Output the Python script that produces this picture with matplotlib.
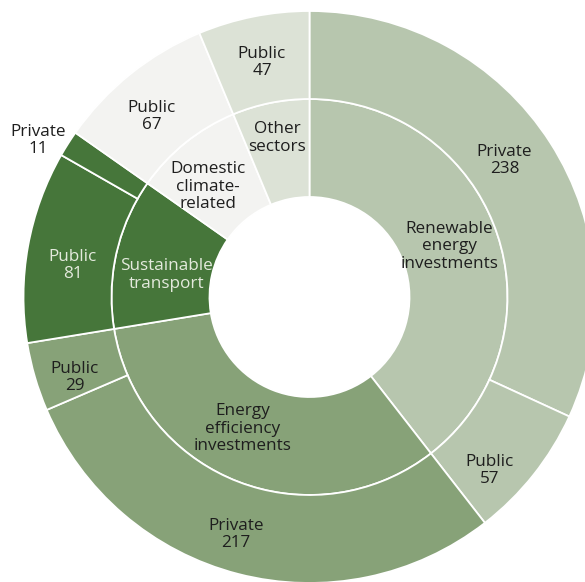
import numpy as np
import matplotlib
matplotlib.use('Agg')
import matplotlib.pyplot as plt

# Inner ring: sectors
sectors = ['Renewable\nenergy\ninvestments', 'Energy\nefficiency\ninvestments',
           'Sustainable\ntransport', 'Domestic\nclimate-\nrelated', 'Other\nsectors']
sector_colors = ['#b7c6ae', '#87a278', '#46763a', '#f3f3f1', '#dce2d6']

# Outer ring: public / private split per sector (clockwise from top)
split_labels = ['Private', 'Public', 'Private', 'Public', 'Public', 'Private', 'Public', 'Public']
split_values = [238, 57, 217, 29, 81, 11, 67, 47]
split_sector = [0, 0, 1, 1, 2, 2, 3, 4]

sector_values = [sum(v for v, s in zip(split_values, split_sector) if s == i)
                 for i in range(len(sectors))]

plt.rcParams['font.family'] = ['Open Sans', 'DejaVu Sans']

fig = plt.figure(figsize=(5.85, 5.82), dpi=100)
ax = fig.add_axes([0, 0, 1, 1])

# pixel geometry of the cropped picture
cx, cy = 309.5, 297
r_hole, r_mid, r_out = 100, 198, 286

edge = dict(edgecolor='white', linewidth=1.3)
ax.pie(sector_values, radius=r_mid, startangle=90, counterclock=False,
       colors=sector_colors, wedgeprops=dict(width=r_mid - r_hole, **edge))
ax.pie(split_values, radius=r_out, startangle=90, counterclock=False,
       colors=[sector_colors[s] for s in split_sector],
       wedgeprops=dict(width=r_out - r_mid, **edge))

ax.set_xlim(-cx, 585 - cx)
ax.set_ylim(-(582 - cy), cy)
ax.set_aspect('equal')
ax.axis('off')

total = float(sum(split_values))
fs = 12.3
dark = '#1e1e1e'
light = '#e4eadd'

def mid_angle(values, i):
    start = 90 - 360 * sum(values[:i]) / total
    return np.deg2rad(start - 180 * values[i] / total)

# inner labels
inner_r = [150, 145, 145, 152, 165]
inner_shift = [2, -6, 3, 3, 0]
for i, lab in enumerate(sectors):
    a = mid_angle(sector_values, i) + np.deg2rad(inner_shift[i])
    col = light if i == 2 else dark
    ax.text(inner_r[i] * np.cos(a), inner_r[i] * np.sin(a) - 3, lab, ha='center',
            va='center', fontsize=fs, color=col, linespacing=1.12)

# outer labels
outer_r = [240, 248, 246, 247, 239, 315, 242, 242]
outer_shift = [3, -5, -3, 2, 2, 2, 2, 0]
for i, (lab, v) in enumerate(zip(split_labels, split_values)):
    a = mid_angle(split_values, i) + np.deg2rad(outer_shift[i])
    col = light if split_sector[i] == 2 and i != 5 else dark
    ax.text(outer_r[i] * np.cos(a), outer_r[i] * np.sin(a) - 3, lab + '\n' + str(v),
            ha='center', va='center', fontsize=fs, color=col, linespacing=1.08)

fig.savefig('out.png', dpi=100, facecolor='white')
